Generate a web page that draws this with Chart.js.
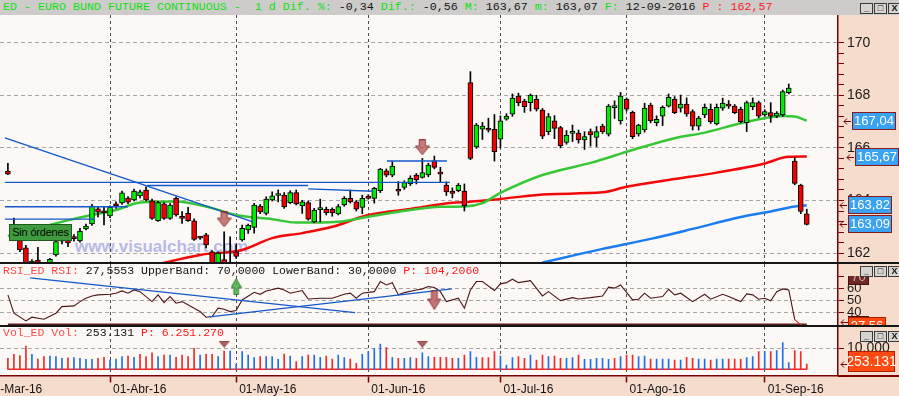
<!DOCTYPE html>
<html lang="es">
<head>
<meta charset="utf-8">
<title>ED - Euro Bund Future Continuous</title>
<script src="https://cdn.jsdelivr.net/npm/chart.js"></script>
<style>
  body { margin: 0; width: 899px; height: 396px; overflow: hidden; position: relative; background: #fcf8f6; }
  .capa { position: absolute; }
  .mono { font-family: "Liberation Mono", "DejaVu Sans Mono", monospace; white-space: pre; }
  .verde { color: #10e010; }
  .negro { color: #141414; }
  .rojo { color: #ff1a1a; }
  .rosa { color: #ff4a4a; }
  .botones { position: absolute; left: 860px; display: flex; gap: 1px; }
  .botones span { display: block; width: 11px; height: 9px; border: 1px solid #3a3a3a; background: #d6d4d0; font: bold 9px/8px "Liberation Sans", sans-serif; text-align: center; color: #111; }
  canvas { position: absolute; left: 0; }
</style>
</head>
<body>
<div class="capa" style="left:0;top:15px;width:838px;height:361px;background:#fcf8f6"></div>
<div class="capa" style="left:838px;top:15px;width:61px;height:361px;background:#f6dccd"></div>
<div class="capa" style="left:0;top:376px;width:899px;height:20px;background:#f6dccd"></div>
<div class="capa" style="left:75px;top:237px;font:bold 17px 'Liberation Sans',Arial,sans-serif;color:#b6bae8;white-space:nowrap">www.visualchart.com</div>

<canvas id="precio" width="899" height="247" style="top:15px"></canvas>
<canvas id="osc" width="899" height="61" style="top:264px"></canvas>
<canvas id="vol" width="899" height="69" style="top:327px"></canvas>

<div class="capa" style="left:0;top:262px;width:899px;height:2px;background:#161616"></div>
<div class="capa" style="left:0;top:325px;width:899px;height:1.5px;background:#161616"></div>
<div class="capa" style="left:838px;top:375px;width:61px;height:1.5px;background:#7a0000"></div>
<div class="capa" style="left:840px;top:264px;width:59px;height:12px;background:#f6dccd"></div>

<div class="capa mono" style="left:0;top:0;width:896px;height:15px;padding-left:3px;background:#cdcccb;font-size:11.67px;line-height:15px"><span class="verde">ED - EURO BUND FUTURE CONTINUOUS -  1 d Dif. %: </span><span class="negro">-0,34 </span><span class="verde">Dif.: </span><span class="negro">-0,56 </span><span class="verde">M: </span><span class="negro">163,67 </span><span class="verde">m: </span><span class="negro">163,07 </span><span class="verde">F: </span><span class="negro">12-09-2016 </span><span class="rojo">P : 162,57</span></div>
<div class="capa mono" style="left:3px;top:264px;font-size:11.5px;line-height:14px"><span class="rosa">RSI_ED RSI: </span><span class="negro">27,5553 UpperBand: 70,0000 LowerBand: 30,0000 </span><span class="rojo">P: 104,2060</span></div>
<div class="capa mono" style="left:3px;top:326px;font-size:11.5px;line-height:14px"><span class="rosa">Vol_ED Vol: </span><span class="negro">253.131 </span><span class="rojo">P: 6.251.270</span></div>

<div class="botones" style="top:3px"><span>_</span><span>&#9633;</span><span>X</span></div>
<div class="botones" style="top:266px"><span>_</span><span>&#9633;</span><span>X</span></div>
<div class="botones" style="top:331px"><span>_</span><span>&#9633;</span><span>X</span></div>

<div class="capa" style="left:9px;top:224px;width:61px;height:15px;background:#3e9c3e;border:1px solid #1d5a1d;font:11px/15px 'Liberation Sans',Arial,sans-serif;letter-spacing:-0.2px;white-space:nowrap;color:#050505;text-align:center">Sin órdenes</div>

<script>
// primera barra visible (7 de marzo = indice 4, 1 de marzo = 0)
const firstBar = 4;

const apertura = [
  165.12, 163.05, 162.50, 162.20, 161.50, 161.73, 161.55, 161.45, 161.93, 162.45,
  162.54, 162.60, 162.46, 162.92, 163.11, 163.68, 163.60, 163.41, 163.87, 163.91,
  164.09, 164.02, 164.17, 164.40, 163.99, 163.23, 163.87, 163.32, 164.08, 163.39,
  163.51, 163.23, 162.60, 162.69, 162.05, 161.60, 161.75, 161.50, 162.05, 162.50,
  162.88, 162.98, 163.79, 163.51, 164.02, 164.19, 164.21, 163.92, 164.30, 163.79,
  163.92, 163.19, 163.65, 163.67, 163.66, 163.49, 163.83, 164.08, 163.95, 163.74,
  164.17, 164.08, 164.37, 165.13, 164.96, 164.37, 164.50, 164.63, 164.97, 164.88,
  164.97, 165.51, 165.06, 164.59, 164.36, 164.37, 164.36, 168.48, 166.04, 166.71,
  166.74, 166.71, 166.33, 167.09, 167.28, 167.97, 167.78, 167.72, 167.85, 167.44,
  166.62, 167.03, 166.77, 166.21, 166.55, 166.56, 166.30, 166.62, 166.40, 166.83,
  166.52, 167.53, 167.03, 167.85, 167.35, 166.53, 166.68, 167.63, 166.96, 167.21,
  167.59, 167.85, 167.51, 167.67, 167.38, 166.83, 167.25, 167.47, 166.91, 167.51,
  167.67, 167.59, 167.47, 166.96, 167.57, 167.72, 167.25, 167.34, 167.21, 167.25,
  168.10, 165.50, 164.59, 163.49
];
const maximo = [
  165.41, 163.33, 162.60, 162.30, 161.75, 162.22, 161.62, 161.80, 162.50, 163.00,
  162.62, 162.70, 162.94, 163.10, 163.85, 163.75, 163.77, 163.80, 163.95, 164.36,
  164.15, 164.43, 164.40, 164.52, 164.05, 163.97, 163.92, 163.88, 164.14, 163.58,
  163.74, 163.30, 162.64, 162.75, 162.10, 162.05, 162.81, 162.62, 162.31, 163.07,
  163.10, 163.89, 163.85, 164.14, 164.33, 164.40, 164.30, 164.37, 164.40, 164.00,
  163.98, 163.70, 164.05, 163.75, 163.72, 163.85, 164.15, 164.40, 164.00, 164.20,
  164.22, 164.50, 165.22, 165.20, 165.48, 164.72, 164.75, 164.94, 165.03, 165.60,
  165.42, 165.69, 165.26, 164.71, 164.48, 164.65, 164.63, 168.90, 166.93, 166.97,
  167.13, 167.27, 167.22, 167.30, 168.05, 168.08, 167.85, 168.05, 168.00, 167.50,
  167.31, 167.23, 166.82, 166.66, 166.87, 166.68, 166.62, 166.72, 166.81, 166.90,
  167.65, 167.79, 168.11, 167.90, 167.40, 166.90, 167.70, 167.70, 167.22, 167.60,
  168.05, 167.95, 168.01, 167.90, 167.45, 167.20, 167.67, 167.67, 167.67, 167.89,
  167.80, 167.65, 167.55, 167.78, 167.90, 167.78, 167.45, 167.72, 167.38, 168.20,
  168.43, 165.64, 164.62, 163.67
];
const minimo = [
  164.98, 162.50, 162.05, 161.40, 161.40, 161.40, 161.30, 161.40, 161.88, 162.35,
  162.24, 162.45, 162.42, 162.88, 163.05, 163.38, 163.07, 163.35, 163.70, 163.85,
  163.88, 163.98, 164.10, 163.98, 163.28, 163.20, 163.28, 163.28, 163.40, 163.13,
  163.20, 162.48, 162.52, 162.20, 161.50, 161.50, 161.30, 161.45, 161.80, 162.45,
  162.75, 162.76, 163.50, 163.45, 163.98, 163.95, 163.70, 163.88, 163.83, 163.51,
  163.25, 163.15, 163.19, 163.45, 163.40, 163.45, 163.78, 163.90, 163.60, 163.50,
  164.05, 163.90, 164.30, 164.90, 164.90, 164.20, 164.42, 164.57, 164.63, 164.85,
  164.90, 165.20, 164.71, 164.19, 164.10, 164.33, 163.60, 165.55, 165.98, 166.32,
  166.60, 165.50, 166.00, 167.05, 167.20, 167.60, 167.35, 167.40, 167.40, 166.35,
  166.50, 166.35, 166.00, 166.14, 166.24, 166.18, 165.94, 166.07, 166.05, 166.55,
  166.45, 167.12, 166.90, 167.40, 166.35, 166.45, 166.60, 166.95, 166.84, 166.85,
  167.55, 167.30, 167.36, 167.20, 166.68, 166.68, 167.15, 166.93, 166.87, 167.43,
  167.50, 167.30, 166.95, 166.62, 167.45, 167.15, 167.20, 166.97, 167.15, 167.20,
  168.05, 164.60, 163.50, 163.07
];
const cierre = [
  165.00, 162.60, 162.12, 161.55, 161.70, 161.50, 161.45, 161.76, 162.44, 162.90,
  162.39, 162.55, 162.84, 163.03, 163.79, 163.56, 163.53, 163.75, 163.79, 164.29,
  163.94, 164.36, 164.33, 164.02, 163.32, 163.92, 163.32, 163.83, 163.45, 163.32,
  163.23, 162.52, 162.57, 162.31, 161.60, 162.00, 161.50, 161.62, 161.87, 162.94,
  163.07, 163.83, 163.57, 164.05, 164.18, 164.21, 163.76, 164.30, 163.87, 163.95,
  163.29, 163.64, 163.67, 163.54, 163.53, 163.77, 164.08, 163.95, 163.67, 164.08,
  164.08, 164.46, 165.19, 164.96, 165.31, 164.35, 164.68, 164.84, 164.78, 165.06,
  165.35, 165.26, 165.00, 164.33, 164.27, 164.59, 163.79, 165.60, 166.87, 166.83,
  166.67, 165.86, 167.03, 167.21, 167.89, 167.72, 167.57, 168.01, 167.47, 166.45,
  167.19, 166.74, 166.08, 166.49, 166.56, 166.30, 166.43, 166.49, 166.62, 166.62,
  167.59, 167.55, 167.97, 167.47, 166.43, 166.87, 167.51, 167.03, 167.09, 167.54,
  167.92, 167.34, 167.67, 167.29, 166.83, 167.13, 167.54, 167.00, 167.54, 167.70,
  167.59, 167.34, 167.00, 167.72, 167.72, 167.21, 167.38, 167.21, 167.32, 168.14,
  168.27, 164.65, 163.58, 163.09
];
const volumen = [
  520000, 710000, 650000, 1110000, 710000, 490000, 600000, 630000, 600000, 520000,
  550000, 555000, 520000, 475000, 475000, 520000, 570000, 445000, 490000, 600000,
  630000, 570000, 710000, 600000, 790000, 600000, 680000, 680000, 570000, 680000,
  600000, 1000000, 680000, 710000, 710000, 600000, 870000, 870000, 240000, 840000,
  680000, 555000, 600000, 600000, 600000, 475000, 730000, 630000, 365000, 600000,
  680000, 680000, 570000, 630000, 490000, 680000, 555000, 490000, 285000, 710000,
  840000, 1000000, 1205000, 1030000, 555000, 520000, 520000, 555000, 520000, 790000,
  600000, 570000, 570000, 570000, 520000, 520000, 680000, 840000, 570000, 555000,
  555000, 840000, 630000, 205000, 555000, 600000, 520000, 680000, 445000, 680000,
  600000, 630000, 520000, 520000, 555000, 680000, 475000, 475000, 520000, 520000,
  475000, 520000, 600000, 680000, 680000, 600000, 630000, 490000, 490000, 490000,
  490000, 445000, 445000, 570000, 520000, 490000, 490000, 445000, 490000, 490000,
  490000, 490000, 475000, 555000, 600000, 840000, 840000, 840000, 890000, 1270000,
  315000, 890000, 840000, 253131
];
const rsi = [
  54.6, 39.3, null, 32.9, 36.0, null, 34.3, null, 39.3, 44.8,
  null, 45.4, 49.0, 51.8, 53.7, 54.6, null, 55.1, 56.0, 57.9,
  56.0, 58.7, 57.3, null, 49.0, 54.6, 48.2, 53.2, 47.7, 49.0,
  null, 43.5, 40.7, 36.0, 36.5, 43.5, 42.7, 40.7, 41.5, 50.4,
  null, 56.8, 55.1, 57.9, null, 60.2, 58.7, 56.0, null, 58.2,
  51.2, null, 51.8, null, 51.8, null, 55.1, 56.0, 51.8, 56.0,
  null, 57.3, 65.7, 62.9, 64.8, 54.6, 56.5, null, 58.7, 59.6,
  61.5, 60.7, 57.3, 49.0, null, 51.8, 43.5, 58.7, 65.7, 65.7,
  null, 58.2, 63.8, 64.8, 67.7, 64.8, null, 66.5, null, 53.7,
  57.3, null, 49.8, null, 52.3, 51.2, null, 52.3, null, 53.7,
  61.0, 60.2, 62.9, null, 50.4, 51.0, 56.0, 51.8, null, 53.2,
  59.3, 54.6, 56.0, null, 49.0, null, 55.1, 51.0, null, 55.1,
  53.2, null, 49.0, 55.4, 54.6, 51.0, 51.8, 49.6, 57.3, 59.6,
  58.7, 34.0, 29.6, 27.56
];

const mesesIdx = [0, 21, 42, 64, 86, 107, 130];
const mesesTxt = ['01-Mar-16', '01-Abr-16', '01-May-16', '01-Jun-16', '01-Jul-16', '01-Ago-16', '01-Sep-16'];

const mmVerdeIdx = [4, 15, 18, 22, 26, 32, 38, 42, 48, 52, 56, 59, 64, 71, 76, 80, 83, 86, 93, 101, 108, 115, 120, 126, 130, 133, 135, 137];
const mmVerde = [162.65, 163.30, 163.45, 163.64, 163.92, 163.96, 163.71, 163.45, 163.29, 163.16, 163.16, 163.19, 163.38, 163.64, 163.76, 163.77, 163.90, 164.29, 164.97, 165.43, 165.92, 166.37, 166.58, 166.94, 167.13, 167.21, 167.19, 167.04];
const mmRojaIdx = [29, 36, 43, 48, 53, 58, 64, 71, 78, 81, 86, 94, 103, 107, 114, 122, 130, 134, 137];
const mmRoja = [161.58, 161.93, 162.12, 162.57, 162.76, 163.00, 163.45, 163.68, 163.91, 163.95, 164.06, 164.24, 164.31, 164.52, 164.78, 165.06, 165.41, 165.66, 165.67];
const mmAzulIdx = [93, 103, 111, 118, 126, 130, 135, 137];
const mmAzul = [161.64, 162.16, 162.54, 162.92, 163.37, 163.54, 163.77, 163.82];

// lineas dibujadas: [barra inicial, precio, barra final, precio]
const lineasPrecio = [
  [3.5, 166.38, 44.8, 163.19],
  [3.5, 164.69, 77.6, 164.69],
  [27.2, 164.57, 54.0, 164.57],
  [54.0, 164.44, 64.8, 164.35],
  [3.5, 163.76, 24.0, 163.76],
  [3.5, 163.29, 18.5, 163.29],
  [67.1, 165.50, 77.1, 165.50]
];
const lineasRsi = [
  [7.7, 68.75, 61.8, 39.83],
  [37.6, 36.25, 77.9, 59.6]
];

const senalIdx = [40, 73];
const senalPrecio = [163.28, 166.02];
const senalVol = [1200000, 1200000];
const rsiSubeIdx = [42];
const rsiSube = [61.6];
const rsiBajaIdx = [75];
const rsiBaja = [50.3];

const ultimosPrecio = [167.04, 165.67, 163.82, 163.09];
const bandasRsi = [70, 30];

// ---------------------------------------------------------------
const xMin = 2.685, xMax = 142.2;
const fuente = '"Liberation Sans", Arial, sans-serif';
Chart.defaults.font.family = fuente;
Chart.defaults.animation = false;
Chart.defaults.plugins.legend.display = false;
Chart.defaults.plugins.tooltip.enabled = false;

const barras = apertura.map((_, k) => firstBar + k);
const serie = (idx, vals) => idx.map((x, k) => ({ x: x, y: vals[k] }));
const puntos = l => [{ x: l[0], y: l[1] }, { x: l[2], y: l[3] }];
const miles = v => String(Math.round(v)).replace(/\B(?=(\d{3})+(?!\d))/g, '.');
const coma = v => v.toFixed(2).replace('.', ',');

function flechaCanvas(w, h, abajo, cuerpo, relleno, borde) {
  const c = document.createElement('canvas');
  c.width = w; c.height = h;
  const g = c.getContext('2d');
  if (!abajo) { g.translate(0, h); g.scale(1, -1); }
  const a = w * 0.21, m = h * cuerpo;
  g.beginPath();
  if (cuerpo > 0) {
    g.moveTo(w / 2 - a, 0.5); g.lineTo(w / 2 + a, 0.5); g.lineTo(w / 2 + a, m);
    g.lineTo(w - 0.5, m); g.lineTo(w / 2, h - 0.5); g.lineTo(0.5, m); g.lineTo(w / 2 - a, m);
  } else {
    g.moveTo(0.5, 0.5); g.lineTo(w - 0.5, 0.5); g.lineTo(w / 2, h - 0.5);
  }
  g.closePath();
  g.fillStyle = relleno; g.fill();
  g.strokeStyle = borde; g.lineWidth = 1; g.stroke();
  return c;
}

function caja(ctx, x, y, w, h, relleno, borde, texto, color, tam) {
  ctx.save();
  ctx.fillStyle = relleno;
  ctx.fillRect(x, y, w, h);
  ctx.strokeStyle = borde; ctx.lineWidth = 1;
  ctx.strokeRect(x + 0.5, y + 0.5, w - 1, h - 1);
  ctx.fillStyle = color;
  ctx.font = tam + 'px ' + fuente;
  ctx.textAlign = 'center'; ctx.textBaseline = 'middle';
  ctx.fillText(texto, x + w / 2, y + h / 2 + 0.5);
  ctx.restore();
}

function flechita(ctx, x, y) {
  y = Math.round(y) + 0.5;
  ctx.save();
  ctx.strokeStyle = '#7a0000'; ctx.lineWidth = 1;
  ctx.beginPath();
  ctx.moveTo(x + 8, y); ctx.lineTo(x + 1, y);
  ctx.moveTo(x + 4, y - 3); ctx.lineTo(x + 1, y); ctx.lineTo(x + 4, y + 3);
  ctx.stroke();
  ctx.restore();
}

function ejeX(conEtiquetas) {
  return {
    type: 'linear', min: xMin, max: xMax, position: 'bottom', offset: false,
    afterBuildTicks: s => { s.ticks = mesesIdx.map(v => ({ value: v })); },
    afterFit: s => { s.height = conEtiquetas ? 20.5 : 0; s.paddingLeft = 0; s.paddingRight = 0; },
    ticks: {
      display: conEtiquetas, autoSkip: false, maxRotation: 0, minRotation: 0,
      align: 'start', labelOffset: 3, padding: 0, color: '#141414', font: { size: 12 },
      callback: v => mesesTxt[mesesIdx.indexOf(v)]
    },
    grid: { offset: false, color: '#4a4a4a', lineWidth: 1, drawTicks: conEtiquetas, tickLength: 7, tickColor: '#7a0000', tickWidth: 1.5 },
    border: { display: conEtiquetas, color: '#7a0000', width: 1.5, dash: [3, 3] }
  };
}

function ejeY(min, max, valores, etiqueta, conRejilla, tam) {
  return {
    position: 'right', min: min, max: max, beginAtZero: false,
    afterBuildTicks: s => { s.ticks = valores.map(v => ({ value: v })); },
    afterFit: s => { s.width = 61; s.paddingTop = 0; s.paddingBottom = 0; },
    ticks: { autoSkip: false, padding: 3, color: '#1a1a1a', font: { size: tam }, callback: etiqueta },
    grid: {
      color: c => (c.tick && conRejilla(c.tick.value)) ? '#a6a6a6' : 'rgba(0,0,0,0)',
      lineWidth: 1, tickLength: 6, tickColor: '#7a0000', tickWidth: 1
    },
    border: { color: '#7a0000', width: 1.5, dash: [4, 3] }
  };
}

// ----------------------------- precio -----------------------------
const ticksPrecio = [];
for (let v = 162; v <= 170.001; v += 0.4) ticksPrecio.push(Math.round(v * 10) / 10);
const esMayor = v => Math.abs(v - Math.round(v / 2) * 2) < 0.01;

const cajasPrecio = {
  id: 'cajasPrecio',
  afterDraw(chart) {
    const ctx = chart.ctx, ys = chart.scales.y;
    const xs = [852, 855, 848, 848];
    ultimosPrecio.forEach((v, k) => {
      const py = ys.getPixelForValue(v);
      flechita(ctx, xs[k] - 9, py);
      caja(ctx, xs[k], Math.round(py - 9), 44, 18, '#3aa2f2', '#8a1a1a', coma(v), '#ffffff', 13);
    });
  }
};

new Chart(document.getElementById('precio'), {
  type: 'bar',
  data: {
    datasets: [
      { type: 'line', data: serie(senalIdx, senalPrecio), showLine: false, pointRadius: 8,
        pointStyle: flechaCanvas(15, 16, true, 0.42, 'rgba(178,72,72,0.72)', 'rgba(130,45,45,0.85)'), order: 0 },
      ...lineasPrecio.map(l => ({ type: 'line', data: puntos(l), borderColor: '#1457cc', borderWidth: 1.4, pointRadius: 0, order: 1 })),
      { data: barras.map((x, k) => ({ x: x, y: [apertura[k], cierre[k]] })),
        backgroundColor: barras.map((_, k) => cierre[k] >= apertura[k] ? '#00ec00' : '#f00000'),
        borderColor: '#000000', borderWidth: 1, borderSkipped: false, barThickness: 5, minBarLength: 2, grouped: false, order: 2 },
      { data: barras.map((x, k) => ({ x: x, y: [minimo[k], maximo[k]] })),
        backgroundColor: '#000000', borderWidth: 0, barThickness: 1, grouped: false, order: 3 },
      { type: 'line', data: serie(mmVerdeIdx, mmVerde), borderColor: '#36c636', borderWidth: 2.5, pointRadius: 0, cubicInterpolationMode: 'monotone', order: 4 },
      { type: 'line', data: serie(mmRojaIdx, mmRoja), borderColor: '#f20808', borderWidth: 2.5, pointRadius: 0, cubicInterpolationMode: 'monotone', order: 4 },
      { type: 'line', data: serie(mmAzulIdx, mmAzul), borderColor: '#1a7cf2', borderWidth: 2.5, pointRadius: 0, cubicInterpolationMode: 'monotone', order: 4 }
    ]
  },
  options: {
    responsive: false,
    layout: { padding: 0, autoPadding: false },
    scales: {
      x: ejeX(false),
      y: ejeY(161.6615, 171.053, ticksPrecio, v => esMayor(v) ? String(Math.round(v)) : '', esMayor, 14)
    }
  },
  plugins: [cajasPrecio]
});

// ----------------------------- RSI -----------------------------
const cajasRsi = {
  id: 'cajasRsi',
  afterDraw(chart) {
    const ctx = chart.ctx, ys = chart.scales.y, a = chart.chartArea;
    bandasRsi.forEach(v => {
      const py = ys.getPixelForValue(v);
      caja(ctx, 848, Math.round(py - 8.5), 21, 17, '#6e2828', '#4a1010', String(v), '#d9b3b3', 13);
    });
    const ult = rsi[rsi.length - 1];
    const py = Math.min(ys.getPixelForValue(ult), a.bottom - 3);
    flechita(ctx, 840, py);
    caja(ctx, 848, Math.round(py - 5), 38, 18, '#ff4a12', '#b02000', coma(ult), '#ffffff', 13);
  }
};

// puntos validos del RSI; el tramo final (bajo la banda) va en rojo
const rsiPuntos = barras.map((x, k) => ({ x: x, y: rsi[k] })).filter(p => p.y !== null);
const corte = rsiPuntos.length - 3;
const marron = '#4a1616';

new Chart(document.getElementById('osc'), {
  type: 'line',
  data: {
    datasets: [
      { data: serie(rsiSubeIdx, rsiSube), showLine: false, pointRadius: 8,
        pointStyle: flechaCanvas(11, 17, false, 0.45, 'rgba(70,175,70,0.85)', 'rgba(40,120,40,0.9)'), order: 0 },
      { data: serie(rsiBajaIdx, rsiBaja), showLine: false, pointRadius: 8,
        pointStyle: flechaCanvas(14, 20, true, 0.45, 'rgba(178,72,72,0.75)', 'rgba(130,45,45,0.85)'), order: 0 },
      ...lineasRsi.map(l => ({ data: puntos(l), borderColor: '#1457cc', borderWidth: 1.3, pointRadius: 0, order: 1 })),
      { data: rsiPuntos.slice(0, corte + 1), borderColor: marron, borderWidth: 1.1, pointRadius: 0, order: 2 },
      { data: rsiPuntos.slice(corte), borderColor: '#e82020', borderWidth: 1.1, pointRadius: 0, order: 2 },
      { data: [{ x: barras[0], y: bandasRsi[1] }, { x: barras[barras.length - 1], y: bandasRsi[1] }],
        borderColor: '#5a1c1c', borderWidth: 1.6, pointRadius: 0, order: 3 }
    ]
  },
  options: {
    responsive: false,
    layout: { padding: 0, autoPadding: false },
    scales: {
      x: ejeX(false),
      y: ejeY(29.5, 80.33, [40, 50, 60, 70], v => String(v), v => v >= 40 && v <= 60, 13)
    }
  },
  plugins: [cajasRsi]
});

// ----------------------------- Volumen -----------------------------
const colVol = barras.map((_, k) => (k === 0 ? cierre[k] >= apertura[k] : cierre[k] >= cierre[k - 1]) ? '#1f6fe6' : '#ee2a2a');

const cajaVol = {
  id: 'cajaVol',
  afterDraw(chart) {
    const ctx = chart.ctx, ys = chart.scales.y;
    const ult = volumen[volumen.length - 1];
    const py = ys.getPixelForValue(ult);
    flechita(ctx, 840, py);
    caja(ctx, 848, Math.round(py - 13), 47, 21, '#ff4a12', '#b02000', miles(ult), '#ffffff', 14);
  }
};

new Chart(document.getElementById('vol'), {
  type: 'bar',
  data: {
    datasets: [
      { type: 'line', data: serie(senalIdx, senalVol), showLine: false, pointRadius: 8,
        pointStyle: flechaCanvas(11, 7, true, 0, 'rgba(160,70,70,0.85)', 'rgba(120,45,45,0.9)'), order: 0 },
      { data: barras.map((x, k) => ({ x: x, y: volumen[k] })), backgroundColor: colVol, borderWidth: 0, barThickness: 1, grouped: false, order: 1 },
      { type: 'line', data: [{ x: barras[0], y: 0 }, { x: barras[barras.length - 1], y: 0 }], borderColor: '#ee2a2a', borderWidth: 1.5, pointRadius: 0, order: 2 }
    ]
  },
  options: {
    responsive: false,
    layout: { padding: 0, autoPadding: false },
    scales: {
      x: ejeX(true),
      y: ejeY(-295238, 2014286, [1000000], v => miles(v / 100), v => v === 1000000, 14)
    }
  },
  plugins: [cajaVol]
});
</script>
</body>
</html>
